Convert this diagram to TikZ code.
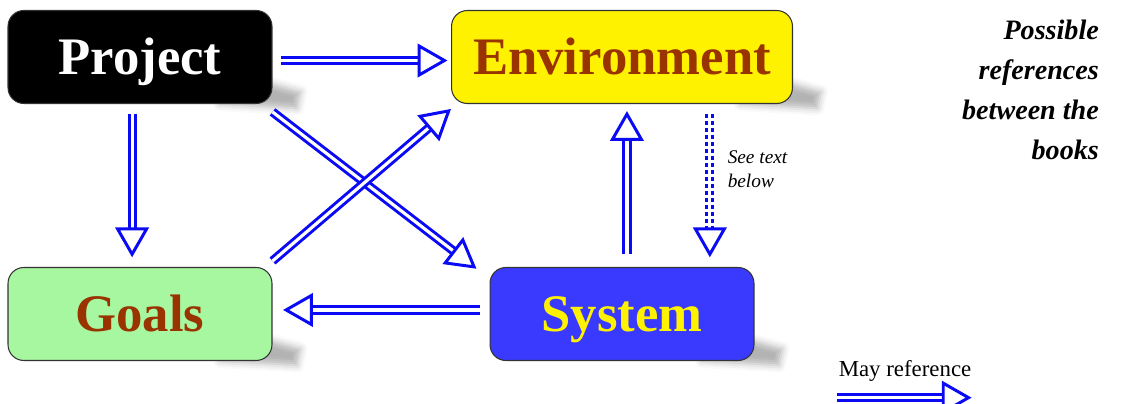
\documentclass[tikz,border=0pt]{standalone}
\usepackage{fontspec}
\setmainfont{Liberation Serif}
\usetikzlibrary{arrows.meta,shadows.blur,backgrounds}

\definecolor{refblue}{RGB}{10,10,245}
\definecolor{bookbrown}{RGB}{153,51,0}
\definecolor{goalgreen}{RGB}{166,247,160}
\definecolor{sysblue}{RGB}{58,58,255}

\tikzset{
  book/.style={draw=black!80, line width=0.6pt, rounded corners=9pt,
    minimum width=5.28cm, minimum height=1.86cm, text height=20pt, text depth=0pt,
    font=\fontsize{30}{30}\selectfont\bfseries},
  bookshadow/.style={blur shadow={shadow xshift=0pt, shadow yshift=0pt, shadow opacity=30, shadow blur radius=4pt}},
  refarrow/.style={draw=refblue, line width=1.7pt, double=white, double distance=1.8pt,
    -{Triangle[open, length=17pt, width=19pt, line width=1.7pt]}},
  maybe/.style={refarrow, dash pattern=on 2.4pt off 1.6pt},
  note/.style={font=\fontsize{16}{22.7}\selectfont\bfseries\itshape, align=right},
}

\begin{document}
\begin{tikzpicture}[x=0.02cm, y=-0.02cm]
  \useasboundingbox (0,0) rectangle (1141,404);

  % the four books
  \node[book, fill=black, text=white] (project) at (140,57) {Project};
  \node[book, fill=yellow, text=bookbrown, minimum width=6.82cm] (environment) at (622,57) {Environment};
  \node[book, fill=goalgreen, text=bookbrown] (goals) at (140,314) {Goals};
  \node[book, fill=sysblue, text=yellow] (system) at (622,314) {System};

  % shadows behind the lower right corners
  \begin{scope}[on background layer]
    \foreach \b in {project,environment,goals,system}
      \path[bookshadow] ([xshift=-30pt,yshift=0pt]\b.south east) -- ([xshift=-6pt,yshift=13pt]\b.south east)
        -- ([xshift=16pt,yshift=7pt]\b.south east) -- ([xshift=14pt,yshift=-2.5pt]\b.south east) -- cycle;
  \end{scope}

  % references
  \draw[refarrow, shorten <=5pt, shorten >=2pt] ([yshift=-2pt]project.east) -- ([yshift=-2pt]environment.west);
  \draw[refarrow, shorten <=5.5pt, shorten >=5.5pt] ([xshift=-4.5pt]project.south) -- ([xshift=-4.5pt]goals.north);
  \draw[refarrow] ([yshift=-4.5pt]project.south east) -- ([xshift=-7.4pt,yshift=-1pt]system.north west);
  \draw[refarrow] ([yshift=3.4pt]goals.north east) -- ([yshift=-2.8pt]environment.south west);
  \draw[refarrow, shorten <=5.5pt, shorten >=6pt] ([yshift=2.3pt]system.west) -- ([yshift=2.3pt]goals.east);
  \draw[refarrow, shorten <=7.4pt, shorten >=4pt] ([xshift=2.8pt]system.north) -- ([xshift=2.8pt]environment.south);
  \draw[maybe, shorten <=5.5pt, shorten >=5.5pt] ([xshift=50pt]environment.south) -- ([xshift=50pt]environment.south |- system.north)
    node[pos=.4, right=6pt, font=\fontsize{11}{14}\selectfont\itshape, align=left] {See text\\below};

  % caption and legend
  \node[note, anchor=east] (caption) at (1105,90) {Possible\\references\\between the\\books};
  \node[font=\fontsize{13}{15}\selectfont, inner sep=0pt] (maytext) at (905,371) {May reference};
  \draw[refarrow] ([xshift=-1pt,yshift=-9pt]maytext.south west) -- ([yshift=-9pt]maytext.south east);
\end{tikzpicture}
\end{document}
